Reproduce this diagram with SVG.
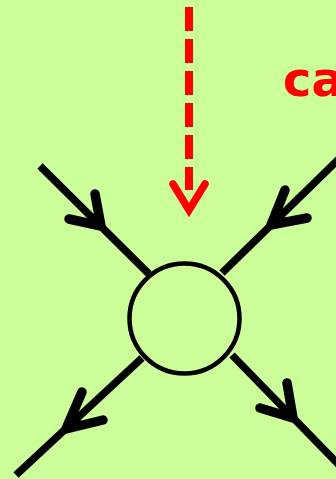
<svg xmlns="http://www.w3.org/2000/svg" width="336" height="479" viewBox="0 0 336 479">
  <style>
    .line{stroke:#000;stroke-width:7.5;fill:none;stroke-linecap:butt}
    .head{stroke:#000;stroke-width:9.5;fill:none;stroke-linecap:round;stroke-linejoin:miter;stroke-miterlimit:10}
    .wedge{fill:#000;stroke:#000;stroke-width:2;stroke-linejoin:round}
    .red{stroke:#ff0000;fill:none}
    .label{font-family:"Comic Sans MS","DejaVu Sans",sans-serif;font-weight:bold;font-size:48px;fill:#ff0000}
  </style>
  <rect x="0" y="0" width="336" height="479" fill="#ccff99"/>
  <g id="connectors">
    <g id="in-left">
      <path class="line" d="M40,166 L149,274"/>
      <path class="head" d="M95,194 L101,226 L69,219"/>
      <path class="wedge" d="M101,226 L98.3,211.6 L86.6,222.9 Z"/>
    </g>
    <g id="in-right">
      <path class="line" d="M342,156 L222,273"/>
      <path class="head" d="M285,190 L271,225 L307,218"/>
      <path class="wedge" d="M271,225 L277.3,209.3 L287.2,221.9 Z"/>
    </g>
    <g id="out-left">
      <path class="line" d="M142,358 L16,475"/>
      <path class="head" d="M82,392 L66,429 L103,420"/>
      <path class="wedge" d="M66,429 L73.2,412.4 L82.7,425 Z"/>
    </g>
    <g id="out-right">
      <path class="line" d="M232,355 L342,468"/>
      <path class="head" d="M287,383 L293,418 L260,408"/>
      <path class="wedge" d="M293,418 L290.3,402.3 L278.2,413.5 Z"/>
    </g>
    <g id="red-arrow">
      <path class="red" d="M189,7 L189,190" stroke-width="8" stroke-dasharray="24 8"/>
      <path class="red" d="M173,184 L189,210 L205,184" stroke-width="7.5" stroke-linecap="round" stroke-linejoin="miter"/>
    </g>
  </g>
  <g id="vertex">
    <circle cx="184.5" cy="318.5" r="55" fill="#ccff99" stroke="#000" stroke-width="4.5"/>
  </g>
  <g id="label">
    <text class="label" x="283" y="96">ca</text>
  </g>
</svg>
